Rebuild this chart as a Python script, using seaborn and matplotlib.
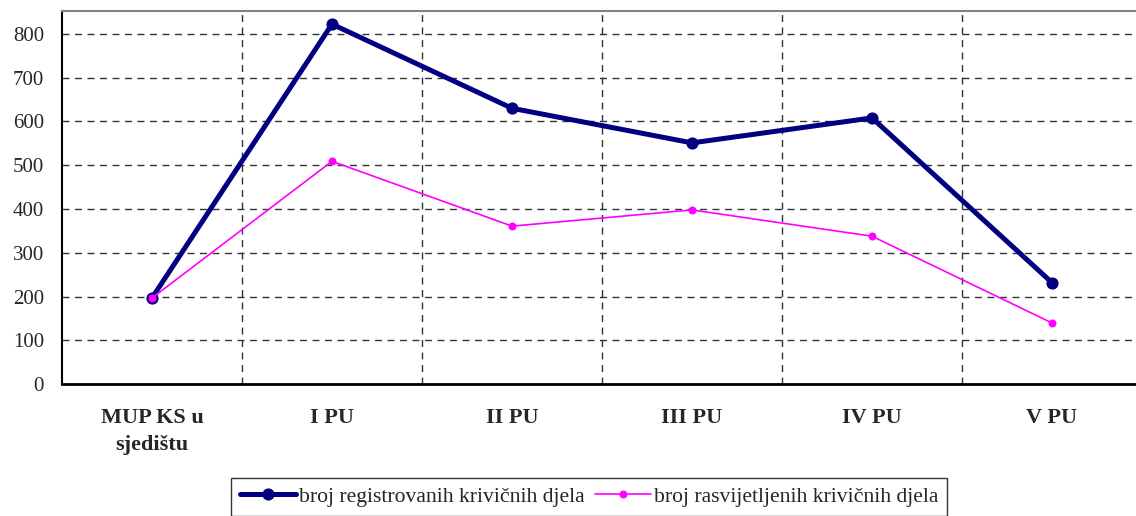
import matplotlib
matplotlib.use("Agg")
import matplotlib.pyplot as plt
import seaborn as sns
import pandas as pd
from matplotlib.ticker import FixedLocator

categories = ["MUP KS u\nsjedištu", "I PU", "II PU", "III PU", "IV PU", "V PU"]
registrovana = [197, 822, 630, 551, 608, 232]
rasvijetljena = [197, 509, 361, 398, 338, 140]
series_names = ["broj registrovanih krivičnih djela", "broj rasvijetljenih krivičnih djela"]
y_ticks = [0, 100, 200, 300, 400, 500, 600, 700, 800]

sns.set_theme(style="white")
plt.rcParams['font.family'] = ['Liberation Serif', 'DejaVu Serif']

df1 = pd.DataFrame({"pos": range(len(categories)), "val": registrovana})
df2 = pd.DataFrame({"pos": range(len(categories)), "val": rasvijetljena})

fig = plt.figure(figsize=(11.36, 5.16), dpi=100)
ax = fig.add_axes([62/1136, 131.7/516, 1080/1136, 373.3/516])

sns.lineplot(data=df1, x="pos", y="val", ax=ax, color="#000080", linewidth=3.6,
             marker="o", markersize=8, markeredgecolor="#000080", label=series_names[0], zorder=3)
sns.lineplot(data=df2, x="pos", y="val", ax=ax, color="#FF00FF", linewidth=1.2,
             marker="o", markersize=5, markeredgecolor="#FF00FF", label=series_names[1], zorder=4)

ax.set_xlim(-0.5, len(categories) - 0.5)
ax.set_ylim(0, 852)
ax.set_yticks(y_ticks)
ax.set_yticklabels([str(v) for v in y_ticks], fontsize=15)

ax.set_xticks(range(len(categories)))
ax.set_xticklabels(categories, fontsize=16, fontweight="bold", linespacing=1.5)
ax.tick_params(axis="x", which="major", length=0, pad=17)
ax.xaxis.set_minor_locator(FixedLocator([i + 0.5 for i in range(-1, len(categories))]))
ax.tick_params(axis="x", which="minor", length=5, width=1.2, color="black", direction="inout")
ax.tick_params(axis="y", which="major", length=5, width=1.2, color="black", direction="out", pad=8)
ax.set_xlabel("")
ax.set_ylabel("")

for y in y_ticks[1:]:
    ax.axhline(y, color="#333333", linestyle=(0, (5, 4)), linewidth=1.0, zorder=1)
for b in range(1, len(categories)):
    ax.axvline(b - 0.5, color="#333333", linestyle=(0, (5, 4)), linewidth=1.0, zorder=1)

ax.spines["left"].set_color("black")
ax.spines["left"].set_linewidth(1.5)
ax.spines["bottom"].set_color("black")
ax.spines["bottom"].set_linewidth(2.0)
ax.spines["top"].set_color("#808080")
ax.spines["top"].set_linewidth(1.5)
ax.spines["right"].set_visible(False)

handles, labels = ax.get_legend_handles_labels()
ax.get_legend().remove()
leg = fig.legend(handles, labels, loc="upper center", bbox_to_anchor=(589/1136, 1 - 478/516),
                 ncol=2, frameon=True, fancybox=False, fontsize=15.6, handlelength=2.6,
                 handletextpad=0.1, columnspacing=0.5, borderpad=0.4, borderaxespad=0)
leg.get_frame().set_edgecolor("black")
leg.get_frame().set_linewidth(1.0)

fig.savefig("out.png", dpi=100)
